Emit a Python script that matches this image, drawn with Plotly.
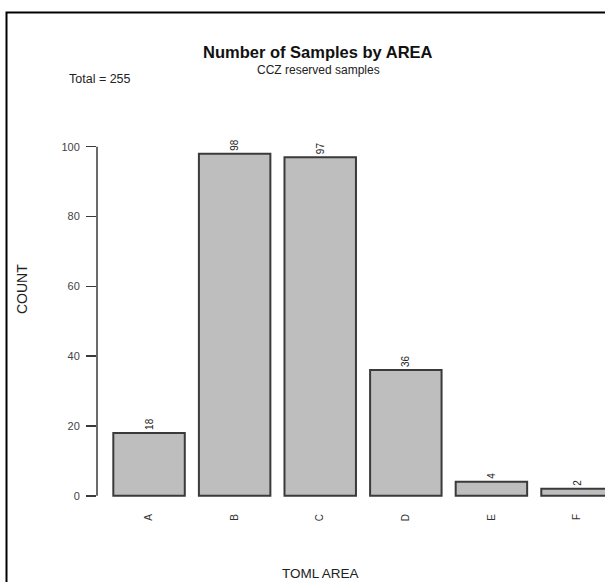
import plotly.graph_objects as go

# ---- data ----
areas = ["A", "B", "C", "D", "E", "F"]
counts = [18, 98, 97, 36, 4, 2]
y_ticks = [0, 20, 40, 60, 80, 100]
title_text = "Number of Samples by AREA"
subtitle_text = "CCZ reserved samples"
x_title = "TOML AREA"
y_title = "COUNT"

total = sum(counts)

FONT = "Liberation Sans, Arial, sans-serif"
TXT = "#222222"

W, H = 605, 582
ML, MR, MT, MB = 97, 0, 131, 81
PW = W - ML - MR
PH = H - MT - MB


def px_to_paper_x(px):
    return (px - ML) / PW


def px_to_paper_y(py):
    return (H - MB - py) / PH


fig = go.Figure()
fig.add_trace(go.Bar(
    x=areas,
    y=counts,
    marker=dict(color="#bebebe", line=dict(color="#3a3a3a", width=2)),
    text=[str(c) for c in counts],
    textposition="outside",
    textangle=-90,
    constraintext="none",
    cliponaxis=False,
    textfont=dict(family=FONT, size=10, color=TXT),
    hoverinfo="x+y",
))

fig.update_layout(
    width=W, height=H,
    margin=dict(l=ML, r=MR, t=MT, b=MB, pad=0, autoexpand=False),
    paper_bgcolor="white",
    plot_bgcolor="white",
    showlegend=False,
    bargap=0.165,
    font=dict(family=FONT, color=TXT),
    xaxis=dict(
        type="category",
        range=[-0.608, 5.327],
        showgrid=False, zeroline=False, showline=False,
        ticks="", tickangle=-90,
        tickfont=dict(family=FONT, size=10, color="#333333"),
        ticklabelstandoff=10,
        automargin=False,
        fixedrange=True,
    ),
    yaxis=dict(
        range=[-1.5, 104.5],
        tickvals=y_ticks,
        showgrid=False, zeroline=False, showline=False,
        ticks="outside", ticklen=10, tickwidth=1.5, tickcolor="#3a3a3a",
        tickfont=dict(family=FONT, size=11, color="#444444"),
        ticklabelstandoff=4,
        automargin=False,
        fixedrange=True,
    ),
)

# y axis line spanning tick range only (R style)
fig.add_shape(type="line", xref="paper", yref="y",
              x0=0, x1=0, y0=min(y_ticks), y1=max(y_ticks),
              line=dict(color="#3a3a3a", width=1.5))

# outer frame (cropped on right and bottom)
fig.add_shape(type="rect", xref="paper", yref="paper",
              x0=px_to_paper_x(6.5), x1=px_to_paper_x(700),
              y0=px_to_paper_y(700), y1=px_to_paper_y(12.5),
              line=dict(color="black", width=2), fillcolor="rgba(0,0,0,0)",
              layer="above")

ann = [
    dict(text="<b>" + title_text + "</b>", x=px_to_paper_x(318), y=px_to_paper_y(52),
         font=dict(size=16.5, color="#111111")),
    dict(text=subtitle_text, x=px_to_paper_x(318), y=px_to_paper_y(70),
         font=dict(size=12, color=TXT)),
    dict(text="Total = " + str(total), x=px_to_paper_x(67), y=px_to_paper_y(79),
         xanchor="left", font=dict(size=12.5, color=TXT)),
    dict(text=y_title, x=px_to_paper_x(22), y=px_to_paper_y(289), textangle=-90,
         font=dict(size=14, color=TXT)),
    dict(text=x_title, x=px_to_paper_x(320), y=px_to_paper_y(573),
         font=dict(size=13.5, color=TXT)),
]
for a in ann:
    a.setdefault("xanchor", "center")
    fig.add_annotation(xref="paper", yref="paper", showarrow=False,
                       yanchor="middle", font_family=FONT, **a)

# remove the page's default body margin so the figure fills the window exactly
fig.write_html(
    "out.html",
    config={"displayModeBar": False, "staticPlot": True},
    post_script="document.body.style.margin='0';document.body.style.overflow='hidden';",
)
